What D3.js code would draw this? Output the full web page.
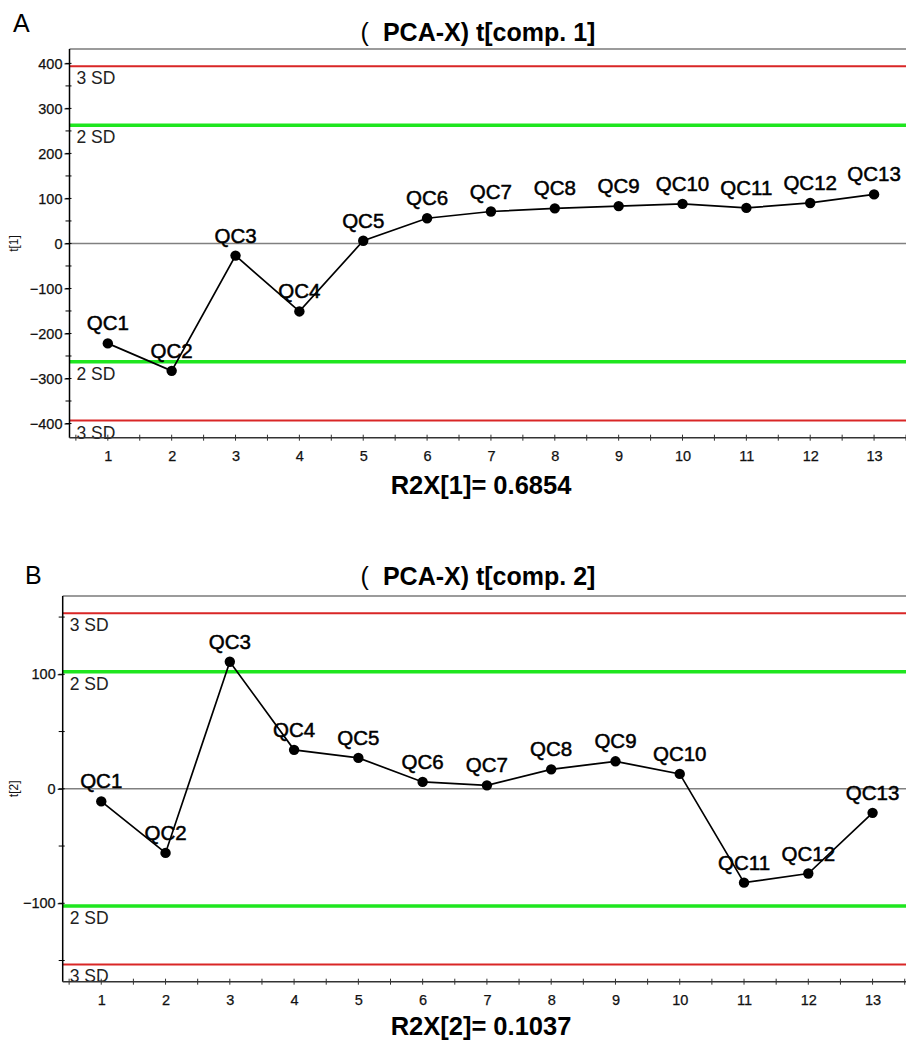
<!DOCTYPE html>
<html><head><meta charset="utf-8">
<script src="https://cdn.jsdelivr.net/npm/d3@7"></script>
<style>body{margin:0;background:#fff}svg{display:block}</style>
</head><body>
<svg id="c" width="906" height="1046"></svg>
<script>
const categories = ["QC1","QC2","QC3","QC4","QC5","QC6","QC7","QC8","QC9","QC10","QC11","QC12","QC13"];
const xValues = [1,2,3,4,5,6,7,8,9,10,11,12,13];
const t1 = [-222,-283,-27,-151,6,56,71,78,83,88,79,90,109];
const t2 = [-11,-56,111,34,27,6,3,17,24,13,-82,-74,-21];
const sd1 = {two:262.5, three:393.5};
const sd2 = {two:102.3, three:153.4};
const yTicks1 = [-400,-300,-200,-100,0,100,200,300,400];
const yTicks2 = [-100,0,100];
const xTickLabels = ["1","2","3","4","5","6","7","8","9","10","11","12","13"];

const svg = d3.select("#c");
const FONT = "Arial, 'Liberation Sans', sans-serif";

function panel(cfg){
  const g = svg.append("g");
  const x = d3.scaleLinear().domain(cfg.xdom).range([cfg.left, cfg.right]);
  const y = d3.scaleLinear().domain(cfg.ydom).range([cfg.bottom, cfg.top]);
  g.append("text").attr("x",cfg.letterX).attr("y",cfg.letterY).text(cfg.letter)
    .attr("font-family",FONT).attr("font-size",25).attr("fill","#000");
  const title = g.append("text").attr("x",478).attr("y",cfg.titleY).attr("text-anchor","middle")
    .attr("font-family",FONT).attr("font-size",25).attr("font-weight","bold").attr("fill","#000");
  title.append("tspan").attr("font-weight","normal").text("(");
  title.append("tspan").attr("dx",14).text(cfg.title);
  g.append("line").attr("x1",cfg.left).attr("x2",cfg.right).attr("y1",cfg.top).attr("y2",cfg.top)
    .attr("stroke","#7a7a7a").attr("stroke-width",1.5);
  g.append("line").attr("x1",cfg.left).attr("x2",cfg.right).attr("y1",y(0)).attr("y2",y(0))
    .attr("stroke","#808080").attr("stroke-width",1.5);
  const sdl = [
    {v:cfg.sd.three,c:"#d92626",w:2,t:"3 SD"},
    {v:cfg.sd.two,c:"#1fe61f",w:3.5,t:"2 SD"},
    {v:-cfg.sd.two,c:"#1fe61f",w:3.5,t:"2 SD"},
    {v:-cfg.sd.three,c:"#d92626",w:2,t:"3 SD"}
  ];
  sdl.forEach(s=>{
    g.append("line").attr("x1",cfg.left).attr("x2",cfg.right).attr("y1",y(s.v)).attr("y2",y(s.v))
      .attr("stroke",s.c).attr("stroke-width",s.w);
    g.append("text").attr("x",cfg.left+7).attr("y",y(s.v)+18).text(s.t)
      .attr("font-family",FONT).attr("font-size",17.5).attr("fill","#222");
  });
  g.append("line").attr("x1",cfg.left).attr("x2",cfg.left).attr("y1",cfg.top).attr("y2",cfg.bottom)
    .attr("stroke","#000").attr("stroke-width",1.5);
  const yMinor = d3.range(Math.ceil(cfg.ydom[0]/50)*50, cfg.ydom[1], 50);
  yMinor.forEach(v=>{
    g.append("line").attr("x1",cfg.left-4).attr("x2",cfg.left+2).attr("y1",y(v)).attr("y2",y(v))
      .attr("stroke","#000").attr("stroke-width",1);
  });
  const yAxis = d3.axisLeft(y).tickValues(cfg.yticks).tickSize(5).tickPadding(2).tickFormat(d3.format("d"));
  const ya = g.append("g").attr("transform",`translate(${cfg.left},0)`).call(yAxis);
  ya.select(".domain").remove();
  ya.selectAll("text").attr("font-family",FONT).attr("font-size",14.5).attr("fill","#111")
    .attr("stroke","#111").attr("stroke-width",0.25);
  ya.selectAll("line").attr("stroke","#000");
  g.append("text").attr("transform",`translate(${cfg.ylabelX},${y(0)}) rotate(-90)`)
    .attr("text-anchor","middle").attr("font-family",FONT).attr("font-size",12).attr("fill","#111")
    .text(cfg.ylabel);
  g.append("line").attr("x1",cfg.left).attr("x2",cfg.right).attr("y1",cfg.bottom).attr("y2",cfg.bottom)
    .attr("stroke","#333").attr("stroke-width",1.5);
  const xMinor = d3.range(0.5, cfg.xdom[1]+0.01, 0.5);
  xMinor.forEach(v=>{
    g.append("line").attr("x1",x(v)).attr("x2",x(v)).attr("y1",cfg.bottom-3).attr("y2",cfg.bottom+3)
      .attr("stroke","#333").attr("stroke-width",1);
  });
  const xAxis = d3.axisBottom(x).tickValues(xValues).tickSize(0).tickPadding(13)
    .tickFormat((d,i)=>xTickLabels[i]);
  const xa = g.append("g").attr("transform",`translate(0,${cfg.bottom})`).call(xAxis);
  xa.select(".domain").remove();
  xa.selectAll("text").attr("font-family",FONT).attr("font-size",14.5).attr("fill","#111")
    .attr("stroke","#111").attr("stroke-width",0.25);
  const pts = xValues.map((xv,i)=>({x:xv,y:cfg.data[i],label:categories[i]}));
  g.append("path").datum(pts)
    .attr("d",d3.line().x(d=>x(d.x)).y(d=>y(d.y)))
    .attr("fill","none").attr("stroke","#000").attr("stroke-width",1.7);
  g.selectAll("circle.pt").data(pts).enter().append("circle")
    .attr("cx",d=>x(d.x)).attr("cy",d=>y(d.y)).attr("r",5.2).attr("fill","#000");
  g.selectAll("text.lab").data(pts).enter().append("text")
    .attr("x",d=>x(d.x)).attr("y",d=>y(d.y)-13).attr("text-anchor","middle")
    .attr("font-family",FONT).attr("font-size",20.5).attr("fill","#000")
    .attr("stroke","#000").attr("stroke-width",0.5)
    .text(d=>d.label);
  g.append("text").attr("x",481).attr("y",cfg.r2Y).attr("text-anchor","middle")
    .attr("font-family",FONT).attr("font-size",25.5).attr("font-weight","bold").attr("fill","#000")
    .text(cfg.r2);
}

panel({letter:"A",letterX:13,letterY:32,title:"PCA-X) t[comp. 1]",titleY:41,
  left:69.5,right:906,top:49,bottom:437.7,xdom:[0.4,13.5],ydom:[-431.5,432],
  yticks:yTicks1,ylabel:"t[1]",ylabelX:18,data:t1,sd:sd1,r2:"R2X[1]= 0.6854",r2Y:494});
panel({letter:"B",letterX:25,letterY:584,title:"PCA-X) t[comp. 2]",titleY:585,
  left:62.7,right:906,top:596,bottom:981.7,xdom:[0.4,13.52],ydom:[-168.5,168.4],
  yticks:yTicks2,ylabel:"t[2]",ylabelX:18,data:t2,sd:sd2,r2:"R2X[2]= 0.1037",r2Y:1035});
</script>
</body></html>
